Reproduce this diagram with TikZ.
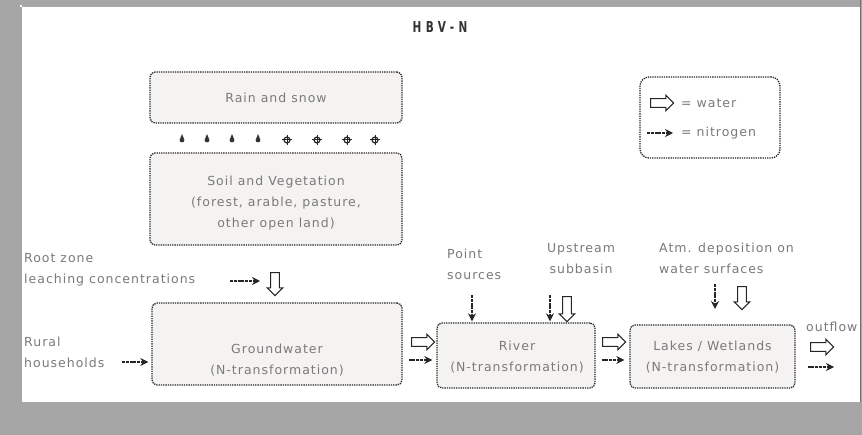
\documentclass[tikz,border=0pt]{standalone}
\usepackage{fontspec}
\setmainfont{DejaVu Sans}[LetterSpace=8]
\newfontfamily\titlefont{DejaVu Sans}[FakeStretch=0.7,LetterSpace=30]
\usetikzlibrary{shapes.arrows,arrows.meta}
\definecolor{bggray}{HTML}{A6A6A6}
\definecolor{boxfill}{HTML}{F5F3F1}
\begin{document}
\begin{tikzpicture}[x=1pt,y=-1pt,
  box/.style={draw=black!85, densely dotted, line width=1.3pt, rounded corners=5pt, fill=boxfill, inner sep=0},
  txt/.style={text=black!52, font=\fontsize{12.5}{21}\selectfont, align=center, inner sep=0},
  water/.style={single arrow, draw=black!85, fill=white, line width=1pt, minimum height=23pt, inner xsep=0pt, inner ysep=3.8pt, single arrow head extend=3.5pt, single arrow head indent=0pt},
  nit/.style={draw=black!85, line width=1.4pt, dash pattern=on 3pt off 0.8pt, -{Stealth[length=8pt,width=8pt]}},
  drop/.style={fill=black!80}]
\useasboundingbox (0,0) rectangle (862,435);
\fill[bggray] (0,0) rectangle (862,435);
\fill[white] (22,7) rectangle (860,402);
\fill[white] (20,5) rectangle (22,7);
\draw[black!55, line width=0.8pt] (860.5,0) -- (860.5,402);

% title
\node[inner sep=0, text=black!80, font=\titlefont\bfseries\fontsize{15}{17}\selectfont] (title) at (440,27) {HBV-N};

% boxes
\node[box, minimum width=252pt, minimum height=51pt] (rain) at (276,97.5) {};
\node[txt] (raint) at (276,98) {Rain and snow};
\node[box, minimum width=252pt, minimum height=92pt] (soil) at (276,199) {};
\node[txt] (soilt) at (276,203) {Soil and Vegetation\\(forest, arable, pasture,\\other open land)};
\node[box, minimum width=250pt, minimum height=82pt] (gw) at (277,344) {};
\node[txt] (gwt) at (277,360) {Groundwater\\(N-transformation)};
\node[box, minimum width=158pt, minimum height=65pt] (river) at (516,355.5) {};
\node[txt] (rivert) at (517,357.5) {River\\(N-transformation)};
\node[box, minimum width=165pt, minimum height=63pt] (lakes) at (712.5,356.5) {};
\node[txt] (lakest) at (712.5,357.5) {Lakes / Wetlands\\(N-transformation)};

% legend
\node[box, fill=white, rounded corners=9pt, minimum width=140pt, minimum height=81pt] (legend) at (710,117.5) {};
\node[water] (lw) at (660,103) {};
\coordinate (ln1) at (647,133);
\coordinate (ln2) at (673,133);
\draw[nit] (ln1) -- (ln2);
\node[txt, anchor=west] (lwt) at (681,103) {= water};
\node[txt, anchor=west] (lnt) at (681,133) {= nitrogen};

% precipitation symbols
\foreach \x in {182,207,232,258} {
  \fill[drop] (\x,134) -- (\x+2.4,140) arc[start angle=0, end angle=-180, radius=2.4pt] -- cycle;
}
\foreach \x in {287,317,347,375} {
  \draw[black!85, line width=1.2pt] (\x,140) circle (3pt);
  \draw[black!85, line width=1pt] (\x-5,140) -- (\x+5,140) (\x,135) -- (\x,145);
}

% outside labels
\node[txt, anchor=west, align=left] (root) at (24,270) {Root zone\\leaching concentrations};
\node[txt, anchor=west, align=left] (rural) at (24,352.5) {Rural\\households};
\node[txt, anchor=west, align=left] (point) at (447,264) {Point\\sources};
\node[txt] (up) at (581,259) {Upstream\\subbasin};
\node[txt, anchor=west, align=left] (atm) at (659,258) {Atm. deposition on\\water surfaces};
\node[txt, anchor=west] (out) at (806,327) {outflow};

% root zone arrows
\coordinate (rn1) at (230,281);
\coordinate (rn2) at (260,281);
\draw[nit] (rn1) -- (rn2);
\node[water, rotate=-90] (rw) at (275,282) {};

% rural households
\coordinate (hn1) at (122,362);
\draw[nit, shorten >=3pt] (hn1) -- (gw.west |- hn1);

% groundwater -> river
\node[water] (gwr) at (421,342) {};
\draw[nit, shorten <=6pt, shorten >=4pt] (gw.east |- 0,360) -- (river.west |- 0,360);

% point sources
\coordinate (pn1) at (472,295);
\draw[nit, shorten >=1pt] (pn1) -- (river.north -| pn1);

% upstream subbasin
\coordinate (un1) at (550,295);
\draw[nit, shorten >=1pt] (un1) -- (river.north -| un1);
\node[water, rotate=-90, minimum height=25pt] (uw) at (567,307) {};

% river -> lakes
\node[water] (rlw) at (612,342) {};
\draw[nit, shorten <=6pt, shorten >=5pt] (river.east |- 0,360) -- (lakes.west |- 0,360);

% atmospheric deposition
\coordinate (an1) at (715,284);
\coordinate (an2) at (715,309);
\draw[nit] (an1) -- (an2);
\node[water, rotate=-90] (aw) at (742,296) {};

% outflow
\node[water] (ow) at (820,347) {};
\coordinate (on2) at (834,367);
\draw[nit, shorten <=12pt] (lakes.east |- on2) -- (on2);
\end{tikzpicture}
\end{document}
